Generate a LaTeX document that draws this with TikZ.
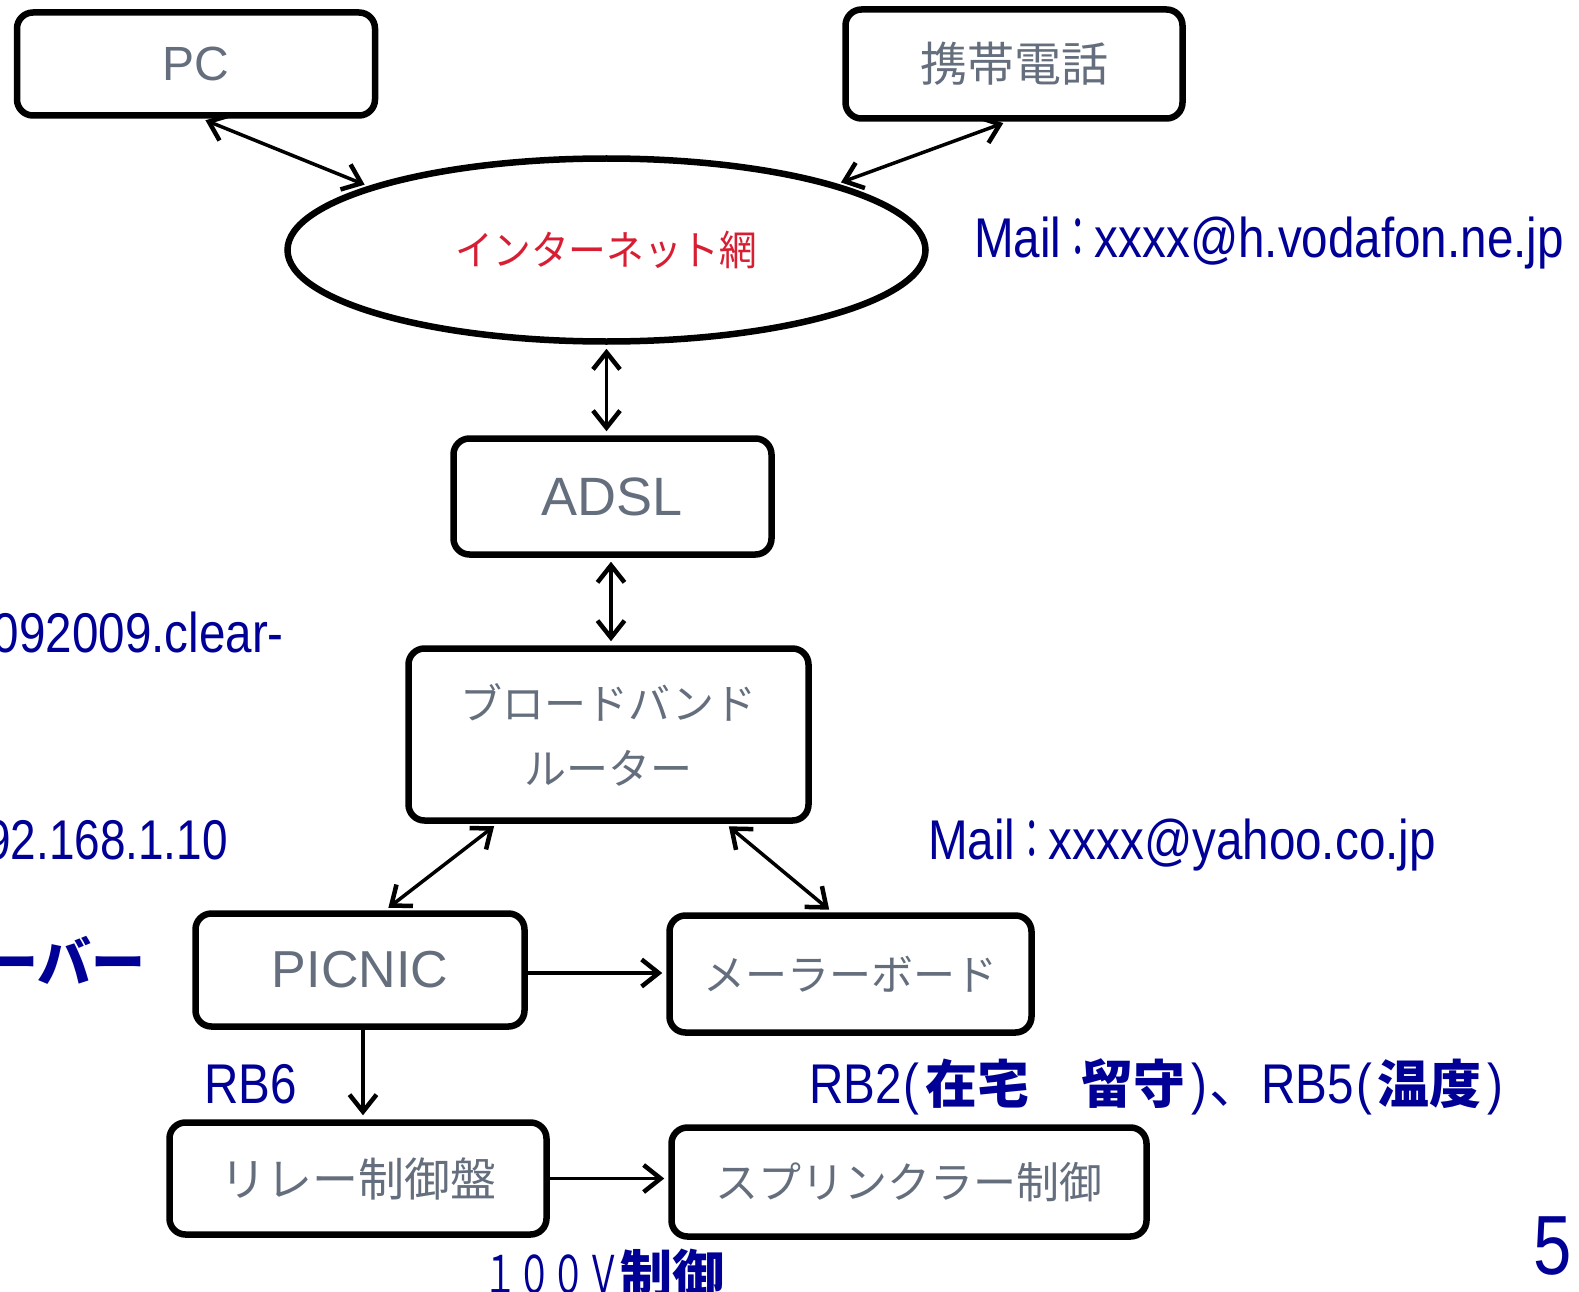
\documentclass[tikz,border=0pt]{standalone}
\usepackage{graphicx}
\usepackage{fontspec}
\setmainfont{Liberation Sans}
\newfontfamily\cjk{Noto Sans CJK JP}
\usetikzlibrary{arrows.meta,shapes.geometric}
\definecolor{navy}{RGB}{0,0,150}
\definecolor{boxtext}{RGB}{100,110,125}
\definecolor{redtext}{RGB}{215,30,50}
\newcommand\lat[1]{\scalebox{0.85}[1]{#1}}
\newcommand\jb{\cjk\bfseries\fontsize{52}{60}\selectfont}
\newcommand\jcolon{{\cjk\scalebox{0.7}[1]{：}}}
\newcommand\jlp{\hspace{2pt}\lat{(}\hspace{6pt}}
\newcommand\jrp{\hspace{6pt}\lat{)}\hspace{2pt}}
\tikzset{
  box/.style={draw, line width=6.5pt, rounded corners=16pt, inner sep=0pt,
    text=boxtext, font=\cjk\fontsize{44}{52}\selectfont, align=center},
  tipb/.tip={Straight Barb[length=17pt,width=27pt,line width=4.5pt]},
  arr/.style={line width=3.5pt, -tipb, shorten >=4pt},
  darr/.style={line width=3.5pt, tipb-tipb, shorten >=4pt, shorten <=4pt},
  lbl/.style={inner sep=0pt, text=navy, font=\fontsize{56}{60}\selectfont}
}
\begin{document}
\begin{tikzpicture}[x=1pt,y=-1pt]
\fill[white] (0,0) rectangle (1579,1292);
\clip (0,0) rectangle (1579,1292);
% boxes
\node[box, minimum width=358pt, minimum height=103pt, font=\fontsize{48}{52}\selectfont] (pc) at (196,64) {PC};
\node[box, minimum width=337pt, minimum height=109pt, font=\cjk\fontsize{47}{52}\selectfont] (phone) at (1014,64) {携帯電話};
\node[ellipse, draw, line width=6.5pt, minimum width=638pt, minimum height=183pt, inner sep=0pt,
  text=redtext, font=\cjk\fontsize{41}{50}\selectfont] (inet) at (606.5,250) {\scalebox{0.92}[1]{インターネット網}};
\node[box, minimum width=318pt, minimum height=116pt, font=\fontsize{54}{56}\selectfont] (adsl) at (612.5,496.5) {ADSL};
\node[box, minimum width=400pt, minimum height=172pt, font=\cjk\fontsize{42}{65}\selectfont] (router) at (608.5,734.5) {ブロードバンド\\ルーター};
\node[box, minimum width=329pt, minimum height=113pt, font=\fontsize{52}{56}\selectfont] (picnic) at (360,970) {PICNIC};
\node[box, minimum width=362pt, minimum height=117pt, font=\cjk\fontsize{42}{52}\selectfont] (mailer) at (850.5,974) {メーラーボード};
\node[box, minimum width=377pt, minimum height=112pt, font=\cjk\fontsize{46}{52}\selectfont] (relay) at (358,1178.5) {リレー制御盤};
\node[box, minimum width=475pt, minimum height=109pt, font=\cjk\fontsize{43}{52}\selectfont] (spr) at (909,1182) {スプリンクラー制御};
% connectors
\draw[darr] ([xshift=188pt]pc.south west) -- (inet.165);
\draw[darr] ([xshift=-7pt]phone.south) -- (inet.16);
\draw[darr] (inet.south) -- (inet.south |- adsl.north);
\draw[darr] ([xshift=-1.5pt]adsl.south) -- ([xshift=-1.5pt]adsl.south |- router.north);
\draw[darr] ([xshift=92pt]router.south west) -- ([xshift=193pt]picnic.north west);
\draw[darr] ([xshift=-86pt]router.south east) -- ([xshift=166pt]mailer.north west);
\draw[arr] ([yshift=-3pt]picnic.east) -- ([yshift=-3pt]picnic.east -| mailer.west);
\draw[arr] ([xshift=3pt]picnic.south) -- ([xshift=3pt]picnic.south |- relay.north);
\draw[arr] (relay.east) -- (relay.east -| spr.west);
% labels
\node[lbl, anchor=base west] (mail1) at (974,257) {\lat{Mail\jcolon xxxx@h.vodafon.ne.jp}};
\node[lbl, anchor=base east] (dns) at (284,652) {\lat{092009.clear-}};
\node[lbl, anchor=base east] (ip) at (228,859) {\scalebox{0.82}[1]{92.168.1.10}};
\node[lbl, anchor=east, font=\cjk\bfseries\fontsize{54}{60}\selectfont] (srv) at (146,960) {ーバー};
\node[lbl, anchor=base west] (mail2) at (928,859) {\lat{Mail\jcolon xxxx@yahoo.co.jp}};
\node[lbl, anchor=base west] (rb6) at (204,1103) {\lat{RB6}};
\node[lbl, anchor=base west] (rb25) at (809,1103) {\lat{RB2}\jlp{\jb 在宅　留守}\jrp{\jb\mdseries 、}\lat{RB5}\jlp{\jb 温度}\jrp};
\node[lbl, anchor=base west] (v100) at (483,1293) {{\cjk\fontsize{52}{60}\selectfont\scalebox{0.66}[1]{１００Ｖ}}{\jb 制御}};
\node[lbl, anchor=base west, font=\fontsize{84}{90}\selectfont] (pg) at (1533,1274) {\scalebox{0.82}[1]{5}};
\end{tikzpicture}
\end{document}
